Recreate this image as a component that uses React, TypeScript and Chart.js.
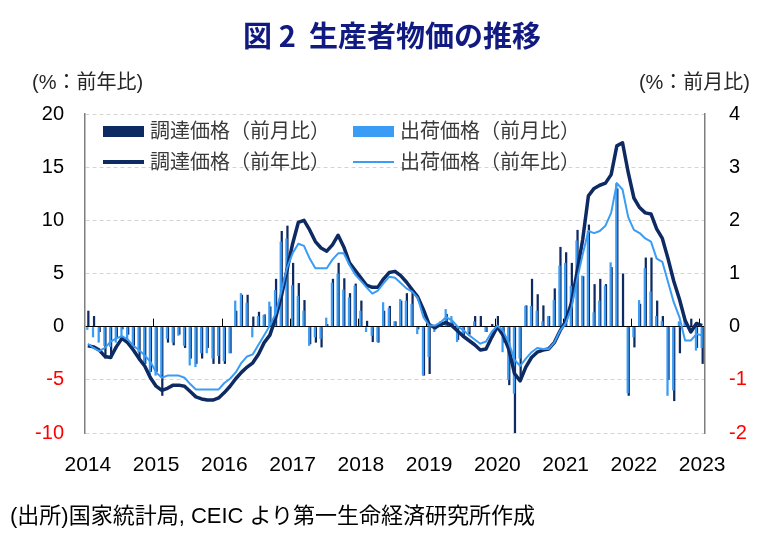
import { useEffect, useRef } from "react";
import { Chart, registerables } from "chart.js";

Chart.register(...registerables);

// Year labels shown on the horizontal axis (one per January)
const YEARS = [2014, 2015, 2016, 2017, 2018, 2019, 2020, 2021, 2022, 2023];

// Monthly categories: Jan 2014 – Jan 2023
const MONTH_LABELS: string[] = [];
YEARS.forEach((y) => {
  const last = y === 2023 ? 1 : 12;
  for (let m = 1; m <= last; m++) MONTH_LABELS.push(`${y}/${m}`);
});

// 調達価格（前年比）, %
const PROCURE_YOY = [
  -1.8, -1.9, -2.2, -2.8, -2.9, -1.9, -1.1, -1.5, -2.2, -3.0, -3.7, -4.8,
  -5.6, -6.0, -5.8, -5.5, -5.5, -5.6, -6.1, -6.6, -6.8, -6.9, -6.9, -6.7,
  -6.2, -5.6, -4.9, -4.3, -3.8, -3.4, -2.6, -1.5, -0.8, 0.8, 2.8, 5.3,
  7.8, 9.8, 10.0, 9.1, 8.0, 7.4, 7.1, 7.7, 8.6, 7.5, 6.0, 5.3,
  4.6, 3.9, 3.7, 3.7, 4.5, 5.1, 5.2, 4.8, 4.2, 3.5, 2.8, 1.6,
  0.2, -0.1, 0.2, 0.4, 0.1, -0.4, -0.9, -1.3, -1.7, -2.2, -2.1, -1.0,
  0.0, -0.8, -2.1, -4.4, -5.1, -3.8, -2.9, -2.4, -2.2, -2.1, -1.5, -0.4,
  0.5, 2.2, 5.1, 8.2, 12.3, 13.0, 13.3, 13.5, 14.3, 17.0, 17.3, 14.5,
  12.1, 11.2, 10.7, 10.6, 9.2, 8.3, 6.4, 4.3, 2.6, 0.6, -0.5, 0.3,
  0.1,
];

// 出荷価格（前年比）, %
const SHIP_YOY = [
  -1.6, -2.0, -2.3, -2.0, -1.4, -1.1, -0.9, -1.2, -1.8, -2.2, -2.7, -3.3,
  -4.3, -4.8, -4.6, -4.6, -4.6, -4.8, -5.4, -5.9, -5.9, -5.9, -5.9, -5.9,
  -5.3, -4.9, -4.3, -3.4, -2.8, -2.6, -1.7, -0.8, 0.1, 1.2, 3.3, 5.5,
  6.9, 7.8, 7.6, 6.4, 5.5, 5.5, 5.5, 6.3, 6.9, 6.9, 5.8, 4.9,
  4.3, 3.7, 3.1, 3.4, 4.1, 4.7, 4.6, 4.1, 3.6, 3.3, 2.7, 0.9,
  0.1, 0.1, 0.4, 0.9, 0.6, 0.0, -0.3, -0.8, -1.2, -1.6, -1.4, -0.5,
  0.1, -0.4, -1.5, -3.1, -3.7, -3.0, -2.4, -2.0, -2.1, -2.1, -1.5, -0.4,
  0.3, 1.7, 4.4, 6.8, 9.0, 8.8, 9.0, 9.5, 10.7, 13.5, 12.9, 10.3,
  9.1, 8.8, 8.3, 8.0, 6.4, 6.1, 4.2, 2.3, 0.9, -1.3, -1.3, -0.7,
  -0.8,
];

// 調達価格（前月比）, %
const PROCURE_MOM = [
  0.3, 0.2, -0.1, -0.6, -0.6, -0.2, -0.05, -0.15, -0.4, -0.6, -0.7, -0.85,
  -0.85, -1.3, -0.3, -0.35, -0.15, -0.4, -0.6, -0.7, -0.6, -0.4, -0.7, -0.7,
  -0.7, -0.5, 0.3, 0.6, 0.6, 0.19, 0.28, 0.23, 0.38, 0.9, 1.8, 1.9,
  1.2, 0.82, 0.5, -0.33, -0.3, -0.39, 0.05, 0.9, 1.2, 0.91, 0.63, 0.81,
  0.49, 0.11, -0.29, -0.3, 0.3, 0.39, 0.1, 0.49, 0.63, 0.71, -0.05, -0.92,
  -0.89, -0.05, 0.1, 0.24, 0.1, -0.25, -0.2, -0.15, 0.2, 0.2, -0.1, 0.05,
  0.2, -0.3, -1.1, -2.0, -1.0, 0.4, 0.9, 0.61, 0.4, 0.2, 0.72, 1.5,
  1.4, 1.2, 1.82, 0.95, 1.92, 0.8, 0.9, 0.8, 1.12, 2.6, 1.0, -1.3,
  -0.39, 0.43, 1.3, 1.3, 0.49, 0.2, -1.0, -1.4, -0.5, 0.0, 0.15, -0.4,
  -0.7,
];

// 出荷価格（前月比）, %
const SHIP_MOM = [
  -0.06, -0.2, -0.3, -0.36, -0.38, -0.3, -0.2, -0.25, -0.45, -0.48, -0.7, -0.92,
  -0.92, -0.92, -0.23, -0.3, -0.17, -0.36, -0.73, -0.76, -0.5, -0.5, -0.6, -0.55,
  -0.65, -0.5, 0.49, 0.63, 0.45, -0.2, 0.2, 0.22, 0.47, 0.69, 1.6, 1.66,
  0.78, 0.58, 0.3, -0.36, -0.2, -0.23, 0.17, 0.83, 1.0, 0.7, 0.55, 0.77,
  0.3, -0.1, -0.17, -0.29, 0.46, 0.35, 0.1, 0.52, 0.49, 0.43, -0.14, -0.92,
  -0.57, -0.1, 0.1, 0.33, 0.2, -0.29, -0.2, -0.1, 0.1, 0.0, -0.1, 0.0,
  0.0, -0.48, -1.0, -1.26, -0.6, 0.39, 0.39, 0.3, 0.1, 0.2, 0.5, 1.15,
  1.2, 0.77, 1.62, 0.96, 1.8, 0.27, 0.49, 0.77, 1.21, 2.7, 0.0, -1.25,
  -0.2, 0.5, 1.1, 0.66, 0.2, 0.1, -1.3, -1.2, 0.1, 0.2, -0.1, -0.45,
  -0.4,
];

const NAVY = "#0e2a62";
const SKY = "#3a9cf4";
const LATIN = "'Liberation Sans', Arial, sans-serif";
const JP = "'Liberation Sans', 'Noto Sans CJK JP', sans-serif";

const SERIES = [
  { label: "調達価格（前月比）", kind: "bar", color: NAVY, data: PROCURE_MOM },
  { label: "出荷価格（前月比）", kind: "bar", color: SKY, data: SHIP_MOM },
  { label: "調達価格（前年比）", kind: "line", color: NAVY, data: PROCURE_YOY },
  { label: "出荷価格（前年比）", kind: "line", color: SKY, data: SHIP_YOY },
];

// Short upward tick marks on the zero line at each year boundary
const yearTicks = {
  id: "yearTicks",
  beforeDatasetsDraw(chart: any) {
    const xs = chart.scales.x;
    const ys = chart.scales.y;
    const y0 = ys.getPixelForValue(0);
    const ctx = chart.ctx;
    ctx.save();
    ctx.strokeStyle = "#000";
    ctx.lineWidth = 1;
    for (let i = 12; i < MONTH_LABELS.length; i += 12) {
      const px = (xs.getPixelForValue(i) + xs.getPixelForValue(i - 1)) / 2;
      ctx.beginPath();
      ctx.moveTo(Math.round(px) + 0.5, y0);
      ctx.lineTo(Math.round(px) + 0.5, y0 - 8);
      ctx.stroke();
    }
    ctx.restore();
  },
};

export default function App() {
  const canvasRef = useRef<HTMLCanvasElement | null>(null);

  useEffect(() => {
    if (!canvasRef.current) return;
    const datasets: any[] = SERIES.map((s, i) => {
      if (s.kind === "bar") {
        return {
          type: "bar",
          label: s.label,
          data: s.data,
          yAxisID: "y2",
          backgroundColor: s.color,
          borderWidth: 0,
          categoryPercentage: 0.36,
          barPercentage: 2.2,
          order: 4 - i,
        };
      }
      return {
        type: "line",
        label: s.label,
        data: s.data,
        yAxisID: "y",
        borderColor: s.color,
        backgroundColor: s.color,
        borderWidth: i === 2 ? 3.5 : 2,
        pointRadius: 0,
        tension: 0,
        fill: false,
        borderJoinStyle: "round",
        order: 4 - i,
      };
    });

    const chart = new Chart(canvasRef.current, {
      type: "bar",
      data: { labels: MONTH_LABELS, datasets },
      plugins: [yearTicks],
      options: {
        animation: false,
        responsive: false,
        maintainAspectRatio: false,
        layout: { padding: { top: 114, left: 0, right: 0, bottom: 0 } },
        plugins: { legend: { display: false }, tooltip: { enabled: false } },
        scales: {
          x: {
            type: "category",
            offset: true,
            grid: { display: false, drawTicks: false },
            border: { display: false },
            ticks: {
              autoSkip: false,
              maxRotation: 0,
              minRotation: 0,
              padding: 20,
              color: "#000",
              font: { family: LATIN, size: 21 },
              callback: (_v: any, i: number) =>
                i % 12 === 0 ? String(YEARS[i / 12]) : "",
            },
            afterFit: (s: any) => {
              s.height = 113;
            },
          },
          y: {
            position: "left",
            min: -10,
            max: 20,
            ticks: {
              stepSize: 5,
              padding: 21,
              font: { family: LATIN, size: 20 },
              color: (c: any) => (c.tick && c.tick.value < 0 ? "#ff0000" : "#000"),
            },
            grid: {
              drawTicks: false,
              color: (c: any) => (c.tick && c.tick.value === 0 ? "#000" : "#d4d4d4"),
              lineWidth: 1,
            },
            border: {
              display: true,
              color: "#7f7f7f",
              width: 1.5,
              dash: (c: any) => (c.tick && c.tick.value === 0 ? [] : [4, 3]),
            },
            afterFit: (s: any) => {
              s.width = 85;
            },
          },
          y2: {
            position: "right",
            min: -2,
            max: 4,
            ticks: {
              stepSize: 1,
              padding: 24,
              font: { family: LATIN, size: 20 },
              color: (c: any) => (c.tick && c.tick.value < 0 ? "#ff0000" : "#000"),
            },
            grid: { drawOnChartArea: false, drawTicks: false },
            border: { display: true, color: "#7f7f7f", width: 1.5 },
            afterFit: (s: any) => {
              s.width = 75;
            },
          },
        },
      } as any,
    });
    return () => chart.destroy();
  }, []);

  const legendRow = (items: typeof SERIES, top: number) => (
    <div style={{ position: "absolute", left: 0, top, height: 24, width: 780 }}>
      {items.map((s, k) => (
        <div
          key={s.label}
          style={{
            position: "absolute",
            left: k === 0 ? 103 : 353,
            top: 0,
            height: 24,
            display: "flex",
            alignItems: "center",
          }}
        >
          <span
            style={{
              display: "inline-block",
              width: 41,
              height: s.kind === "bar" ? 11 : s.color === NAVY ? 3.5 : 2,
              background: s.color,
              marginRight: 6,
            }}
          />
          <span
            style={{
              fontFamily: JP,
              fontSize: 20,
              lineHeight: "24px",
              color: "#3a3a3a",
              whiteSpace: "nowrap",
            }}
          >
            {s.label}
          </span>
        </div>
      ))}
    </div>
  );

  return (
    <div
      style={{
        position: "absolute",
        left: 0,
        top: 0,
        width: 780,
        height: 546,
        background: "#fff",
        overflow: "hidden",
      }}
    >
      <canvas ref={canvasRef} width={780} height={546} style={{ position: "absolute", left: 0, top: 0 }} />
      <div
        style={{
          position: "absolute",
          left: 0,
          top: 15,
          width: 784,
          textAlign: "center",
          fontFamily: "'Noto Sans CJK JP', sans-serif",
          fontWeight: 700,
          fontSize: 29,
          lineHeight: "38px",
          color: "#101a80",
          whiteSpace: "pre",
        }}
      >
        {"図 2  生産者物価の推移"}
      </div>
      <div
        style={{
          position: "absolute",
          left: 32,
          top: 70,
          fontFamily: JP,
          fontSize: 20,
          lineHeight: "24px",
          color: "#262626",
          whiteSpace: "nowrap",
        }}
      >
        (%：前年比)
      </div>
      <div
        style={{
          position: "absolute",
          right: 30,
          top: 70,
          fontFamily: JP,
          fontSize: 20,
          lineHeight: "24px",
          color: "#262626",
          whiteSpace: "nowrap",
        }}
      >
        (%：前月比)
      </div>
      {legendRow(SERIES.filter((s) => s.kind === "bar"), 119)}
      {legendRow(SERIES.filter((s) => s.kind === "line"), 150)}
      <div
        style={{
          position: "absolute",
          left: 10,
          top: 503,
          fontFamily: JP,
          fontSize: 22,
          lineHeight: "26px",
          color: "#000",
          whiteSpace: "nowrap",
        }}
      >
        (出所)国家統計局, CEIC より第一生命経済研究所作成
      </div>
    </div>
  );
}
